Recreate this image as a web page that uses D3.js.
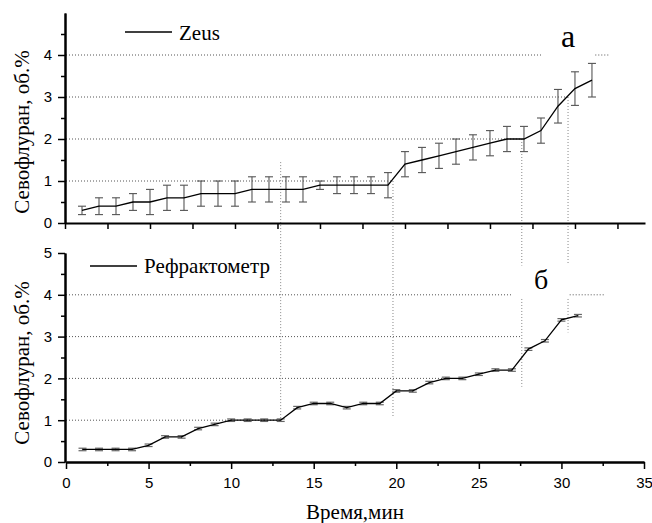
<!DOCTYPE html>
<html>
<head>
<meta charset="utf-8">
<script src="https://cdn.jsdelivr.net/npm/d3@7"></script>
<style>
body { margin: 0; background: #fff; }
.tick text { font-family: "Liberation Sans", Arial, sans-serif; font-size: 15px; fill: #000; }
</style>
</head>
<body>
<div id="chart"></div>
<script>
var width = 652;
var height = 523;
var serif = "'Liberation Serif', 'Times New Roman', Times, serif";

// data
var time = [1,2,3,4,5,6,7,8,9,10,11,12,13,14,15,16,17,18,19,20,21,22,23,24,25,26,27,28,29,30,31];
var zeus = [0.3,0.4,0.4,0.5,0.5,0.6,0.6,0.7,0.7,0.7,0.8,0.8,0.8,0.8,0.9,0.9,0.9,0.9,0.9,1.4,1.5,1.6,1.7,1.8,1.9,2.0,2.0,2.2,2.78,3.2,3.4];
var zeusErr = [0.1,0.2,0.2,0.2,0.3,0.3,0.3,0.3,0.3,0.3,0.3,0.3,0.3,0.3,0.1,0.2,0.2,0.2,0.3,0.3,0.3,0.3,0.3,0.3,0.3,0.3,0.3,0.3,0.4,0.4,0.4];
var refr = [0.3,0.3,0.3,0.3,0.4,0.6,0.6,0.8,0.9,1.0,1.0,1.0,1.0,1.3,1.4,1.4,1.3,1.4,1.4,1.7,1.7,1.9,2.0,2.0,2.1,2.2,2.2,2.7,2.9,3.4,3.5];
var refrErr = [0.03,0.03,0.03,0.03,0.03,0.03,0.03,0.03,0.03,0.03,0.03,0.03,0.03,0.03,0.03,0.03,0.03,0.03,0.03,0.03,0.03,0.03,0.03,0.03,0.03,0.03,0.03,0.03,0.03,0.03,0.03];

var xTicks = [0,5,10,15,20,25,30,35];
var xMinor = [2.5,7.5,12.5,17.5,22.5,27.5,32.5];
var xTopTicks = [0,2.5,5,7.5,10,12.5,15,17.5,20,22.5,25,27.5,30,32.5];
var yTicksTop = [0,1,2,3,4];
var yMinorTop = [0.5,1.5,2.5,3.5,4.5];
var yTicksBot = [0,1,2,3,4,5];
var yMinorBot = [0.5,1.5,2.5,3.5,4.5];

// dotted guide lines (time in bottom-axis units)
var guideH_top = [[1,0,19.8],[2,0,27.6],[3,0,30.4],[4,0,28.8],[4,32.05,32.85]];
var guideH_bot = [[1,0,13],[2,0,23.3],[3,0,27.6],[4,0,27.0],[4,30.5,32.6]];
// [time, top panel y from, bottom panel y to]
var guideV = [[13,1.45,1.0],[19.8,1.0,1.1],[27.6,2.0,4.7],[30.4,3.0,4.75]];
var guideV_bot = [[27.6,3.9,1.8],[30.4,3.9,3.1]];

var svg = d3.select("#chart").append("svg")
	.attr("width", width)
	.attr("height", height);

var xTop = d3.scaleLinear().domain([0, 34.12]).range([65, 645]);
var xBot = d3.scaleLinear().domain([0, 35]).range([66, 644]);
var yTop = d3.scaleLinear().domain([0, 5]).range([223, 13]);
var yBot = d3.scaleLinear().domain([0, 5]).range([462, 253]);

// guides
var guides = svg.append("g").attr("fill", "none");
guideH_top.forEach(function(g) {
	guides.append("line")
		.attr("x1", xBot(g[1])).attr("x2", xBot(g[2]))
		.attr("y1", yTop(g[0])).attr("y2", yTop(g[0]))
		.attr("stroke", "#555").attr("stroke-dasharray", "1,2");
});
guideH_bot.forEach(function(g) {
	guides.append("line")
		.attr("x1", xBot(g[1])).attr("x2", xBot(g[2]))
		.attr("y1", yBot(g[0])).attr("y2", yBot(g[0]))
		.attr("stroke", "#555").attr("stroke-dasharray", "1,2");
});
guideV.forEach(function(g) {
	guides.append("line")
		.attr("x1", xBot(g[0])).attr("x2", xBot(g[0]))
		.attr("y1", yTop(g[1])).attr("y2", yBot(g[2]))
		.attr("stroke", "#888").attr("stroke-dasharray", "1,2");
});
guideV_bot.forEach(function(g) {
	guides.append("line")
		.attr("x1", xBot(g[0])).attr("x2", xBot(g[0]))
		.attr("y1", yBot(g[1])).attr("y2", yBot(g[2]))
		.attr("stroke", "#888").attr("stroke-dasharray", "1,2");
});

// axes
function styleAxis(g) {
	g.select(".domain").attr("stroke", "#000").attr("stroke-width", 2);
	g.selectAll(".tick line").attr("stroke", "#000").attr("stroke-width", 1.5);
}
var fmt = d3.format("d");

svg.append("g").attr("transform", "translate(65,0)")
	.call(d3.axisLeft(yTop).tickValues(yMinorTop).tickSize(4).tickFormat("").tickSizeOuter(0))
	.call(styleAxis);
svg.append("g").attr("transform", "translate(65,0)")
	.call(d3.axisLeft(yTop).tickValues(yTicksTop).tickFormat(fmt).tickSize(7).tickPadding(6).tickSizeOuter(0))
	.call(styleAxis);
svg.append("g").attr("transform", "translate(0,223)")
	.call(d3.axisBottom(xTop).tickValues(xTopTicks).tickSize(6).tickFormat("").tickSizeOuter(0))
	.call(styleAxis);

svg.append("g").attr("transform", "translate(65,0)")
	.call(d3.axisLeft(yBot).tickValues(yMinorBot).tickSize(4).tickFormat("").tickSizeOuter(0))
	.call(styleAxis);
svg.append("g").attr("transform", "translate(65,0)")
	.call(d3.axisLeft(yBot).tickValues(yTicksBot).tickFormat(fmt).tickSize(7).tickPadding(6).tickSizeOuter(0))
	.call(styleAxis);
svg.append("g").attr("transform", "translate(0,462)")
	.call(d3.axisBottom(xBot).tickValues(xMinor).tickSize(4).tickFormat("").tickSizeOuter(0))
	.call(styleAxis);
svg.append("g").attr("transform", "translate(0,462)")
	.call(d3.axisBottom(xBot).tickValues(xTicks).tickFormat(fmt).tickSize(7).tickPadding(8).tickSizeOuter(0))
	.call(styleAxis);

// error bars
function errorBars(g, xs, ys, vals, errs, cap, color, sw) {
	var bars = g.selectAll("g.err").data(time).enter().append("g").attr("class", "err")
		.attr("stroke", color).attr("stroke-width", sw);
	bars.append("line")
		.attr("x1", function(d) { return xs(d); }).attr("x2", function(d) { return xs(d); })
		.attr("y1", function(d, i) { return ys(vals[i] - errs[i]); })
		.attr("y2", function(d, i) { return ys(vals[i] + errs[i]); });
	[-1, 1].forEach(function(s) {
		bars.append("line")
			.attr("x1", function(d) { return xs(d) - cap; }).attr("x2", function(d) { return xs(d) + cap; })
			.attr("y1", function(d, i) { return ys(vals[i] + s * errs[i]); })
			.attr("y2", function(d, i) { return ys(vals[i] + s * errs[i]); });
	});
}

errorBars(svg.append("g"), xTop, yTop, zeus, zeusErr, 4, "#555", 1.1);
errorBars(svg.append("g"), xBot, yBot, refr, refrErr, 4, "#666", 1.2);

var lineTop = d3.line()
	.x(function(d, i) { return xTop(time[i]); })
	.y(function(d) { return yTop(d); });
var lineBot = d3.line()
	.x(function(d, i) { return xBot(time[i]); })
	.y(function(d) { return yBot(d); });

svg.append("path").datum(zeus).attr("d", lineTop)
	.attr("fill", "none").attr("stroke", "#000").attr("stroke-width", 1.3);
svg.append("path").datum(refr).attr("d", lineBot)
	.attr("fill", "none").attr("stroke", "#000").attr("stroke-width", 1.3);

function serifText(x, y, size, str) {
	return svg.append("text")
		.attr("x", x).attr("y", y)
		.attr("fill", "#000")
		.style("font-family", serif)
		.style("font-size", size + "px")
		.text(str);
}

// legends
svg.append("line").attr("x1", 125).attr("x2", 172).attr("y1", 32).attr("y2", 32)
	.attr("stroke", "#000").attr("stroke-width", 1.3);
serifText(179, 40, 21, "Zeus");

svg.append("line").attr("x1", 90).attr("x2", 137).attr("y1", 266).attr("y2", 266)
	.attr("stroke", "#000").attr("stroke-width", 1.3);
serifText(144, 273, 21, "Рефрактометр");

// panel letters
serifText(568, 47, 32, "а").attr("text-anchor", "middle");
serifText(541, 289, 28, "б").attr("text-anchor", "middle");

// axis titles
serifText(0, 0, 21, "Севофлуран, об.%")
	.attr("transform", "translate(29,132) rotate(-90)")
	.attr("text-anchor", "middle");
serifText(0, 0, 21, "Севофлуран, об.%")
	.attr("transform", "translate(29,363) rotate(-90)")
	.attr("text-anchor", "middle");
serifText(355, 519, 21, "Время,мин").attr("text-anchor", "middle");
</script>
</body>
</html>
